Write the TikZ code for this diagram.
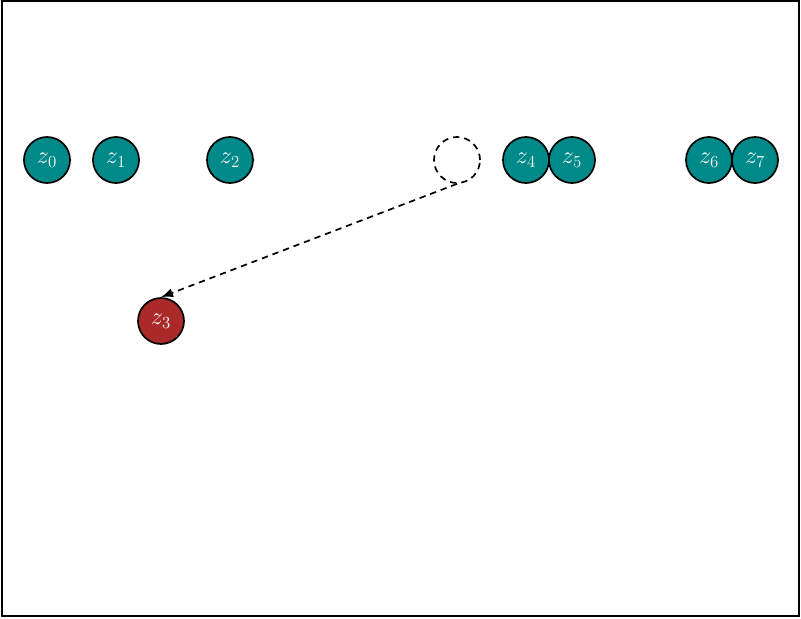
\documentclass[tikz,border=0pt]{standalone}
\usepackage{amsmath,amssymb}
\usepackage{tikz}
\usetikzlibrary{arrows.meta}
\definecolor{zteal}{RGB}{0,137,137}
\definecolor{zred}{RGB}{170,41,41}

\begin{document}
\begin{tikzpicture}[x=0.025cm,y=-0.025cm,
    zvar/.style={circle,draw=black,very thick,fill=zteal,text=white,
                 minimum size=1.15cm,inner sep=0pt,font=\LARGE},
    zmoved/.style={zvar,fill=zred},
    zghost/.style={circle,draw=black,very thick,dash pattern=on 4.5pt off 3.5pt,
                   minimum size=1.15cm,inner sep=0pt}]
        \useasboundingbox (0,0) rectangle (801,618);
        \draw[very thick] (2,1) rectangle (799,616);
        \node[zvar] (z0) at (47,160) {$z_0$};
        \node[zvar] (z1) at (116,160) {$z_1$};
        \node[zvar] (z2) at (230,160) {$z_2$};
        \node[zghost] (gap) at (457,160) {};
        \node[zvar] (z4) at (526,160) {$z_4$};
        \node[zvar] (z5) at (572,160) {$z_5$};
        \node[zvar] (z6) at (709,160) {$z_6$};
        \node[zvar] (z7) at (755,160) {$z_7$};
        \node[zmoved] (z3) at (161,321) {$z_3$};
        \draw[very thick,dash pattern=on 4.5pt off 3.5pt,-{Latex[length=3mm]}]
              (gap.south) -- (z3.north);
      \end{tikzpicture}
\end{document}
